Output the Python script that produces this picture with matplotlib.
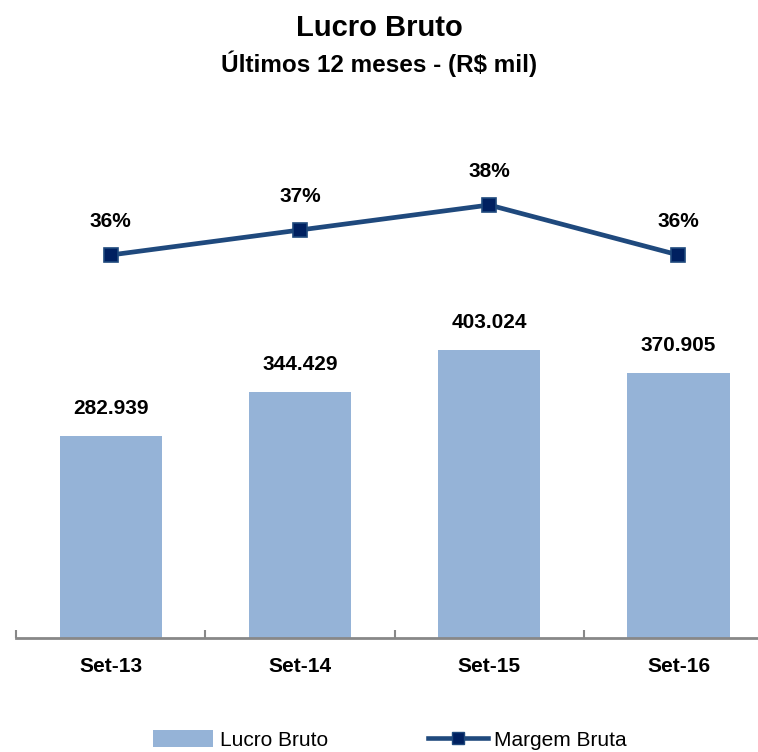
import matplotlib
matplotlib.use("Agg")
import matplotlib.pyplot as plt
from matplotlib.lines import Line2D
from matplotlib.patches import Patch

plt.rcParams["font.family"] = ["Liberation Sans", "DejaVu Sans"]

categories = ["Set-13", "Set-14", "Set-15", "Set-16"]
lucro_bruto = [282.939, 344.429, 403.024, 370.905]
margem_bruta = [36, 37, 38, 36]

BAR_COLOR = "#95B3D7"
LINE_COLOR = "#1F497D"
MARKER_FACE = "#002060"


def fmt_mil(v):
    return f"{v:.3f}"


def main():
    W, H = 758, 752
    fig = plt.figure(figsize=(W / 100, H / 100), dpi=100)
    ax = fig.add_axes([16 / W, (H - 638) / H, (W - 16) / W, 538 / H])

    x = list(range(len(categories)))
    ax.bar(x, lucro_bruto, width=0.54, color=BAR_COLOR, zorder=2)
    for xi, v in zip(x, lucro_bruto):
        ax.annotate(fmt_mil(v), (xi, v), xytext=(0, 13), textcoords="offset points",
                    ha="center", va="bottom", fontsize=15, fontweight="bold")

    ax.set_xlim(-0.5, 3.42)
    ax.set_ylim(0, 753)
    for s in ["top", "right", "left"]:
        ax.spines[s].set_visible(False)
    ax.spines["bottom"].set_color("#888888")
    ax.spines["bottom"].set_linewidth(2)
    ax.set_yticks([])
    ax.set_xticks([-0.5, 0.5, 1.5, 2.5])
    ax.set_xticklabels([])
    ax.tick_params(axis="x", direction="in", length=6, width=1.5, color="#888888")
    for xi, c in zip(x, categories):
        ax.annotate(c, (xi, 0), xytext=(0, -14), textcoords="offset points",
                    ha="center", va="top", fontsize=15, fontweight="bold")

    # margem no eixo secundario
    ax2 = ax.twinx()
    ax2.set_ylim(20.68, 42.2)
    ax2.plot(x, margem_bruta, color=LINE_COLOR, linewidth=3.4, marker="s",
             markersize=10, markerfacecolor=MARKER_FACE, markeredgecolor=LINE_COLOR,
             markeredgewidth=1.2, zorder=3)
    for xi, v in zip(x, margem_bruta):
        ax2.annotate(f"{v}%", (xi, v), xytext=(0, 17), textcoords="offset points",
                     ha="center", va="bottom", fontsize=15, fontweight="bold")
    ax2.axis("off")

    fig.text(0.5, 1 - 28 / H, "Lucro Bruto", ha="center", va="center",
             fontsize=21, fontweight="bold")
    fig.text(0.5, 1 - 64 / H, "Últimos 12 meses - (R$ mil)", ha="center", va="center",
             fontsize=17.5, fontweight="bold")

    handles = [
        Patch(facecolor=BAR_COLOR, label="Lucro Bruto"),
        Line2D([], [], color=LINE_COLOR, linewidth=3.3, marker="s", markersize=8,
               markerfacecolor=MARKER_FACE, markeredgecolor=LINE_COLOR,
               label="Margem Bruta"),
    ]
    fig.legend(handles=handles, loc="center", bbox_to_anchor=(390 / W, 1 - 740 / H),
               ncol=2, frameon=False, fontsize=15, handlelength=2.9,
               handleheight=0.9, columnspacing=4.8, handletextpad=0.3)

    fig.savefig("out.png", dpi=100)


if __name__ == "__main__":
    main()
